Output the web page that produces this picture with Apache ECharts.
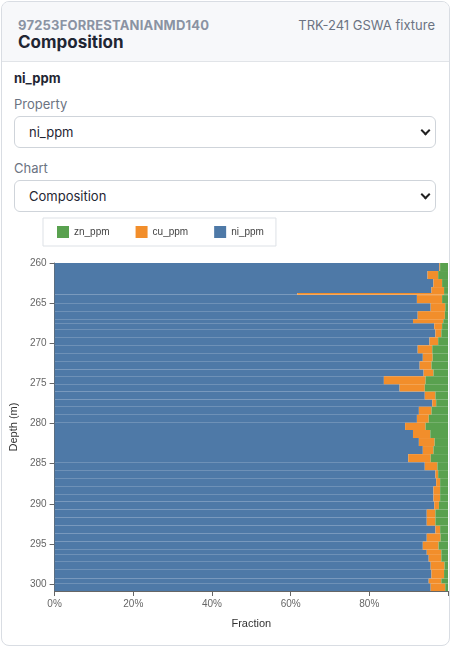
<!DOCTYPE html>
<html><head><meta charset="utf-8">
<script src="https://cdn.jsdelivr.net/npm/echarts@6/dist/echarts.min.js"></script>
<style>
body{margin:0;width:451px;height:648px;font-family:Inter,"Noto Sans",sans-serif;background:#fff;position:relative;overflow:hidden}
.card{position:absolute;left:1px;top:1px;width:447px;height:643px;border:1px solid #d9dde3;border-radius:8px;overflow:hidden}
.hdr{height:59px;background:#f7f8fa;border-bottom:1px solid #e1e4e8;position:relative}
.sub{position:absolute;left:16px;top:15px;font-size:13px;font-weight:700;color:#8a93a3;letter-spacing:0.2px}
.ttl{position:absolute;left:16px;top:30px;font-size:17px;font-weight:700;color:#1f2633}
.rt{position:absolute;right:14px;top:15px;font-size:13px;color:#6b7382}
.lab{position:absolute;left:12px;font-size:13px;color:#6b7382}
.sel{position:absolute;left:12px;width:422px;height:32px;border:1px solid #cfd4da;border-radius:6px;font-size:13px;color:#1f2633;box-sizing:border-box;padding:7px 14px}
.sel:after{content:"";position:absolute;right:6px;top:10px;width:5px;height:5px;border-right:2px solid #222;border-bottom:2px solid #222;transform:rotate(45deg)}
#c{position:absolute;left:0;top:215px;width:451px;height:425px}
</style></head><body>
<div class="card">
<div class="hdr"><div class="sub">97253FORRESTANIANMD140</div><div class="ttl">Composition</div><div class="rt">TRK-241 GSWA fixture</div></div>
<div class="lab" style="top:68px;font-weight:700;color:#1f2633">ni_ppm</div>
<div class="lab" style="top:94px">Property</div>
<div class="sel" style="top:114px">ni_ppm</div>
<div class="lab" style="top:158px">Chart</div>
<div class="sel" style="top:178px">Composition</div>
</div>
<div id="c"></div>
<script>
const depthFrom=[260,261,262,263,263.75,264,265,266,267,267.5,268.25,269.25,270.25,271.25,272.25,273.25,274.1,275.1,276,277,277.9,278.9,279.9,280.8,281.8,282.8,283.8,284.8,285.8,286.8,287.8,288.8,289.7,290.7,291.7,292.7,293.7,294.7,295.7,296.35,297.2,298.2,299.3,299.9];
const depthTo=[261,262,263,263.75,263.95,265,266,267,267.5,268.25,269.25,270.25,271.25,272.25,273.25,274.1,275.1,276,277,277.9,278.9,279.9,280.8,281.8,282.8,283.8,284.8,285.8,286.8,287.8,288.8,289.7,290.7,291.7,292.7,293.7,294.7,295.7,296.35,297.2,298.2,299.3,299.9,300.85];
const ni=[0.978,0.948,0.963,0.958,0.617,0.921,0.956,0.923,0.911,0.965,0.968,0.953,0.923,0.936,0.928,0.938,0.837,0.877,0.941,0.960,0.926,0.921,0.891,0.911,0.926,0.936,0.899,0.941,0.968,0.970,0.963,0.963,0.965,0.946,0.946,0.968,0.946,0.936,0.946,0.951,0.956,0.958,0.951,0.956];
const cu=[0.002,0.027,0.022,0.032,0.373,0.064,0.037,0.069,0.077,0.020,0.015,0.022,0.037,0.025,0.030,0.025,0.106,0.064,0.027,0.010,0.032,0.030,0.052,0.044,0.040,0.027,0.057,0.032,0.007,0.010,0.017,0.017,0.012,0.022,0.022,0.012,0.035,0.040,0.037,0.032,0.035,0.032,0.032,0.037];
const zn=ni.map((v,i)=>+(1-v-cu[i]).toFixed(3));
const xTicks=['0%','20%','40%','60%','80%'];
function seg(k){return depthFrom.map((d,i)=>{const s=k===0?0:(k===1?ni[i]:ni[i]+cu[i]);const w=[ni,cu,zn][k][i];return [s,s+w,d,depthTo[i]];});}
function ri(color){return function(p,api){const a=api.coord([api.value(0),api.value(2)]),b=api.coord([api.value(1),api.value(3)]);return {type:'rect',shape:{x:a[0],y:a[1],width:b[0]-a[0],height:b[1]-a[1]},style:{fill:color}};};}
const cols=['#4e79a7','#f28e2b','#59a14f'],names=['ni_ppm','cu_ppm','zn_ppm'];
const series=[0,1,2].map(k=>({type:'custom',name:names[k],renderItem:ri(cols[k]),itemStyle:{color:cols[k]},encode:{x:[0,1],y:[2,3]},data:seg(k)}));
const ch=echarts.init(document.getElementById('c'));
ch.setOption({animation:false,
legend:{data:['zn_ppm','cu_ppm','ni_ppm'],left:43,top:3,icon:'rect',itemWidth:12,itemHeight:12,itemGap:26,padding:[8,12,8,14],borderColor:'#dde1e6',borderWidth:1,textStyle:{fontSize:10,color:'#444'}},
grid:{left:43,right:3,top:48,bottom:49},
xAxis:{type:'value',min:0,max:1,interval:0.2,name:'Fraction',nameLocation:'middle',nameGap:27,nameTextStyle:{fontSize:11,color:'#333'},
axisLabel:{fontSize:10,color:'#666',formatter:(v)=>{const i=Math.round(v*5);return i<xTicks.length?xTicks[i]:'';}},axisLine:{show:true,lineStyle:{color:'#666'}},axisTick:{show:true},splitLine:{show:false}},
yAxis:{type:'value',inverse:true,min:260,max:300.85,interval:5,name:'Depth (m)',nameLocation:'middle',nameGap:30,nameTextStyle:{fontSize:11,color:'#333'},
axisLabel:{fontSize:10,color:'#666',showMaxLabel:false},axisLine:{show:true,lineStyle:{color:'#666'}},axisTick:{show:true},splitLine:{show:false}},
series});
</script></body></html>
